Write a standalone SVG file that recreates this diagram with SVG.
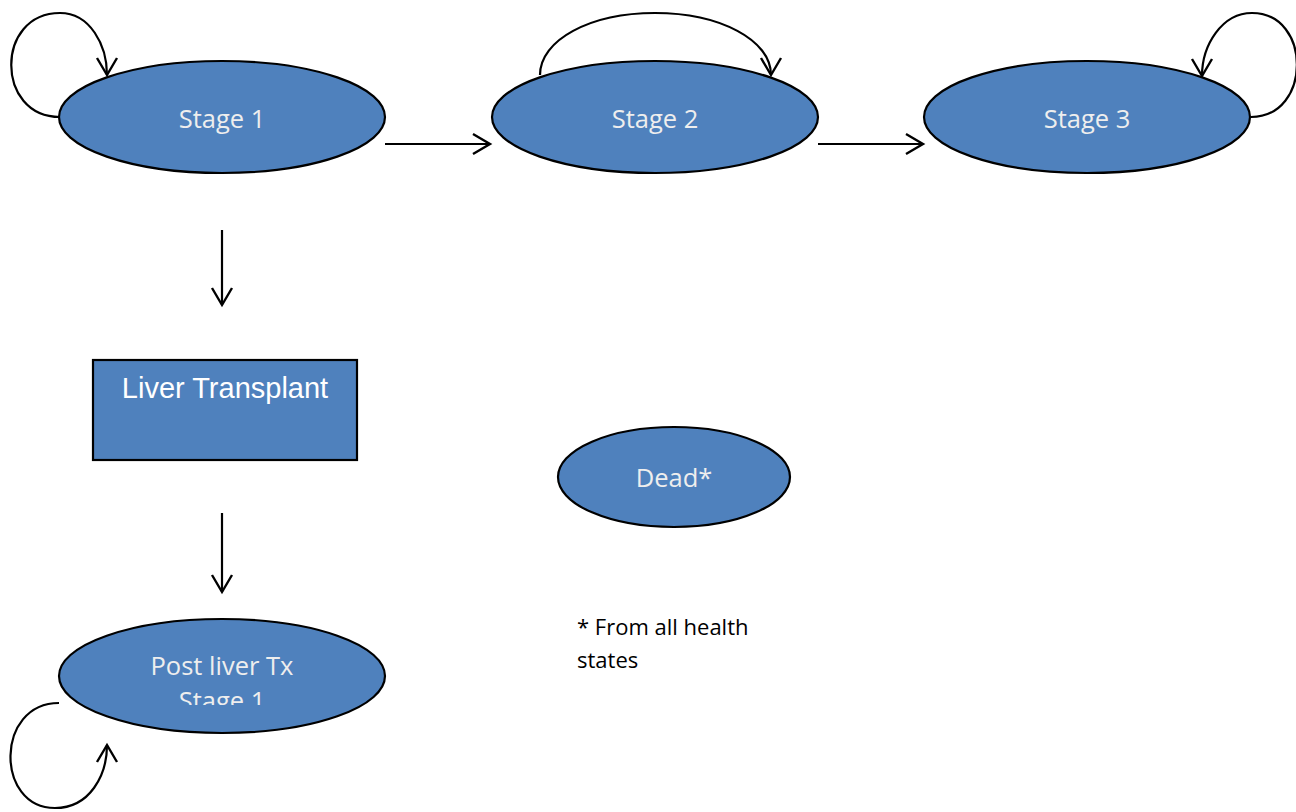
<svg xmlns="http://www.w3.org/2000/svg" width="1296" height="812" viewBox="0 0 1296 812">
<style>
.node{fill:#4f81bd;stroke:#000;stroke-width:2.2}
.lbl{font-family:"Open Sans","Noto Sans",sans-serif;font-size:25.5px;fill:#eeeeee;text-anchor:middle}
.lbl2{font-family:"Liberation Sans",Arial,sans-serif;font-size:29px;fill:#ffffff;text-anchor:middle}
.note{font-family:"Open Sans","Noto Sans",sans-serif;font-size:22px;fill:#000}
.edge{fill:none;stroke:#000;stroke-width:2.2;marker-end:url(#arr)}
</style>
<defs>
<marker id="arr" markerUnits="userSpaceOnUse" markerWidth="40" markerHeight="40" refX="0" refY="0" orient="auto" overflow="visible">
<path d="M-17,-10 L0,0 L-17,10" fill="none" stroke="#000" stroke-width="2.4"/>
</marker>
<clipPath id="clipPost"><rect x="80" y="630" width="285" height="75"/></clipPath>
</defs>
<g id="connectors">
<path class="edge" d="M60,117 C -5,117 -5,13 60,13 C 90,13 107,45 107,75"/>
<path class="edge" d="M540,75 C 540,40 590,13 655,13 C 720,13 771,40 771,75"/>
<path class="edge" d="M1251,117 C 1312,117 1312,13 1252,13 C 1222,13 1202,45 1202,76"/>
<path class="edge" d="M385,144 L490,144"/>
<path class="edge" d="M818,144 L923,144"/>
<path class="edge" d="M222,230 L222,305"/>
<path class="edge" d="M222,513 L222,592"/>
<path class="edge" d="M59,703 C -5,703 -5,808 55,808 C 90,808 107,775 107,745"/>
</g>
<g id="stage1">
<ellipse class="node" cx="222" cy="117" rx="163" ry="56"/>
<text class="lbl" x="222" y="128">Stage 1</text>
</g>
<g id="stage2">
<ellipse class="node" cx="655" cy="117" rx="163" ry="56"/>
<text class="lbl" x="655" y="128">Stage 2</text>
</g>
<g id="stage3">
<ellipse class="node" cx="1087" cy="117" rx="163" ry="56"/>
<text class="lbl" x="1087" y="128">Stage 3</text>
</g>
<g id="liver-transplant">
<rect class="node" x="93" y="360" width="264" height="100"/>
<text class="lbl2" x="225" y="398">Liver Transplant</text>
</g>
<g id="post-liver-tx">
<ellipse class="node" cx="222" cy="676" rx="163" ry="57"/>
<g clip-path="url(#clipPost)">
<text class="lbl" x="222" y="675">Post liver Tx</text>
<text class="lbl" x="222" y="710">Stage 1</text>
</g>
</g>
<g id="dead">
<ellipse class="node" cx="674" cy="477" rx="116" ry="50"/>
<text class="lbl" x="674" y="487">Dead*</text>
</g>
<g id="note">
<text class="note" x="577" y="635">* From all health</text>
<text class="note" x="577" y="668">states</text>
</g>
</svg>
